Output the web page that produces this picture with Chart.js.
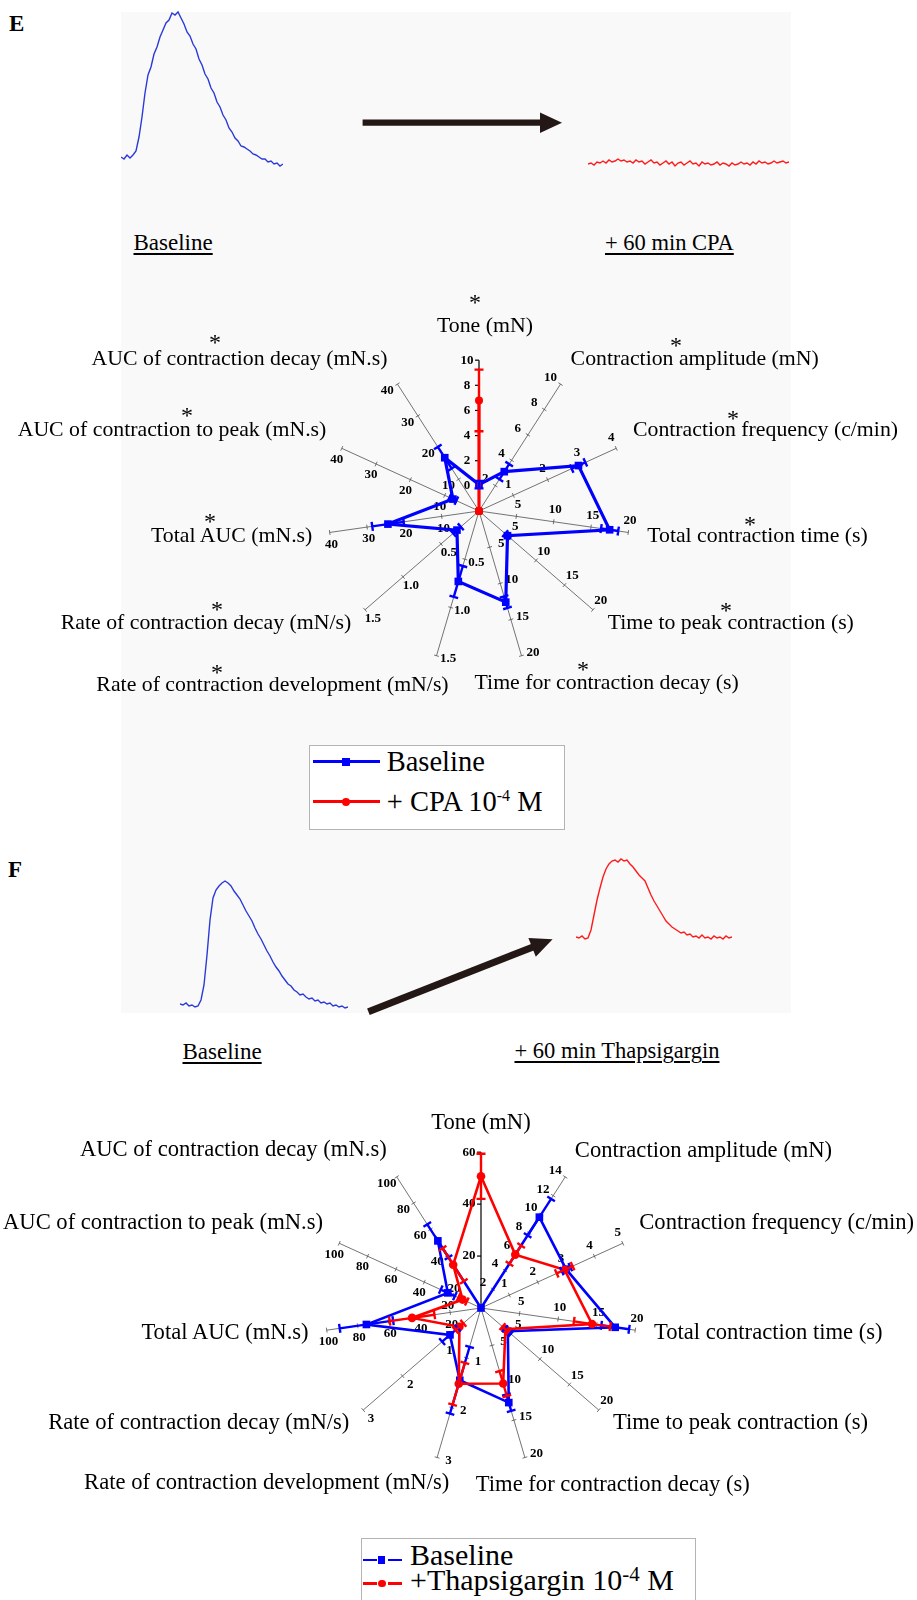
<!DOCTYPE html>
<html>
<head>
<meta charset="utf-8">
<title>CPA and thapsigargin radar plots</title>
<script src="https://cdn.jsdelivr.net/npm/chart.js@4.4.1/dist/chart.umd.min.js"></script>
<style>
  html, body { margin: 0; padding: 0; background: #fff; }
  body { position: relative; width: 917px; height: 1600px; overflow: hidden; font-family: "Liberation Serif", "Times New Roman", serif; color: #000; }
  .bg { position: absolute; left: 121px; top: 12px; width: 670px; height: 1001px; background: #f9f9f9; }
  canvas { position: absolute; }
  .t { position: absolute; white-space: nowrap; line-height: 1; }
  .u { text-decoration: underline; text-decoration-thickness: 1.5px; text-underline-offset: 3px; }
  .legend { position: absolute; background: #fff; border: 1px solid #b4b4b4; }
  .sw { position: absolute; }
</style>
</head>
<body>
<div class="bg"></div>
<svg width="917" height="1600" style="position:absolute;left:0;top:0">
  <line x1="362.6" y1="122.7" x2="543" y2="122.7" stroke="#231815" stroke-width="6.3"/>
  <polygon points="540,112.5 562,122.7 540,132.9" fill="#231815"/>
  <line x1="368.4" y1="1011.7" x2="535" y2="946.2" stroke="#231815" stroke-width="7"/>
  <polygon points="552.6,939.3 535.8,956.7 528.4,938.1" fill="#231815"/>
</svg>

<canvas id="traceEBase" style="left:121px;top:5px" width="162" height="170"></canvas>
<canvas id="traceECpa" style="left:588px;top:5px" width="201" height="170"></canvas>
<canvas id="traceFBase" style="left:180px;top:860px" width="168" height="155"></canvas>
<canvas id="traceFThaps" style="left:576px;top:845px" width="156" height="170"></canvas>

<canvas id="radarE" style="left:298px;top:330px" width="362" height="362"></canvas>
<canvas id="radarF" style="left:294px;top:1121px" width="374" height="374"></canvas>

<script>
// ---- data ----
const axisNames = ['Tone (mN)', 'Contraction amplitude (mN)', 'Contraction frequency (c/min)',
  'Total contraction time (s)', 'Time to peak contraction (s)', 'Time for contraction decay (s)',
  'Rate of contraction development (mN/s)', 'Rate of contraction decay (mN/s)',
  'Total AUC (mN.s)', 'AUC of contraction to peak (mN.s)', 'AUC of contraction decay (mN.s)'];

// panel E (CPA)
const eAxisMin = [-2, 0, 0, 0, 0, 0, 0, 0, 0, 0, 0];
const eAxisMax = [10, 10, 4, 20, 20, 20, 1.5, 1.5, 40, 40, 40];
const eTickLabels = [['0','2','4','6','8','10'], ['2','4','6','8','10'], ['1','2','3','4'],
  ['5','10','15','20'], ['5','10','15','20'], ['5','10','15','20'],
  ['0.5','1.0','1.5'], ['0.5','1.0','1.5'],
  ['10','20','30','40'], ['10','20','30','40'], ['10','20','30','40']];
const eBaseline = [0.1, 3.1, 2.9, 17.5, 5.0, 12.6, 0.73, 0.29, 24.4, 7.6, 16.8];
const eBaselineErr = [0.3, 0.6, 0.2, 1.15, 0.4, 0.8, 0.16, 0.05, 4.2, 1.0, 3.4];
const eCpa = [6.8, 0, 0, 0, 0, 0, 0, 0, 0, 0, 0];
const eCpaErr = [2.45, 0, 0, 0, 0, 0, 0, 0, 0, 0, 0];

// panel F (thapsigargin)
const fAxisMin = [0, 0, 0, 0, 0, 0, 0, 0, 0, 0, 0];
const fAxisMax = [60, 14, 5, 20, 20, 20, 3, 3, 100, 100, 100];
const fTickLabels = [['20','40','60'], ['2','4','6','8','10','12','14'], ['1','2','3','4','5'],
  ['5','10','15','20'], ['5','10','15','20'], ['5','10','15','20'],
  ['1','2','3'], ['1','2','3'],
  ['20','40','60','80','100'], ['20','40','60','80','100'], ['20','40','60','80','100']];
const fBaseline = [0, 9.7, 3.0, 17.4, 4.55, 12.65, 1.45, 0.79, 74.3, 23.4, 51.2];
const fBaselineErr = [0, 1.95, 0.15, 1.8, 0.5, 1.1, 0.67, 0.2, 17.3, 5, 12.6];
const fThaps = [50.7, 5.7, 2.95, 14.4, 4.15, 10.1, 1.52, 0.55, 44.7, 13, 33];
const fThapsErr = [8.7, 0.97, 0.28, 2.35, 0.5, 1.67, 0.42, 0.1, 14.5, 3, 12.6];

// example force traces (a.u.)
const eTraceBase = [18,16,20,17,20,24,38,58,82,100,108,121,128,138,145,152,155,162,160,163,
  157,151,143,139,131,126,116,110,101,96,87,82,73,68,60,55,47,43,37,34,
  29,28,26,24,21,20,18,16,16,13,14,11,12,9,11];
const eTraceCpa = [11,12,10,13,12,14,12,15,13,14,16,14,15,13,14,12,15,13,14,11,
  13,15,12,13,10,12,14,11,13,9,12,13,10,12,14,11,12,9,13,11,
  12,10,11,13,10,12,11,9,12,10,11,13,11,12,10,13,11,14,12,13,
  11,12,14,12,13,14,12,13];
const fTraceBase = [11,10,12,9,10,8,9,15,30,60,95,117,125,129,132,134,132,129,124,120,
  116,110,104,99,94,87,81,76,70,64,59,53,48,44,39,35,31,29,25,23,
  20,21,18,16,17,14,15,12,13,11,12,9,10,8,9,7,8];
const fTraceThaps = [78,77,79,76,77,85,100,115,127,138,146,151,154,155,153,156,154,155,151,148,
  144,140,137,134,127,120,114,109,104,99,94,91,88,86,84,82,83,80,81,78,
  79,77,80,77,78,76,79,77,78,76,79,77,78];

// ---- layout (label centres) ----
const eLabelPos = [[485,326.7],[694.7,360],[765.5,430.7],[757.5,536.7],[730.8,623.3],[606.7,683.3],
  [272.5,686],[206,623.3],[231.7,536.7],[172,430.7],[239.5,360]];
const eStarPos = [[475,299],[676,342],[733,415],[750,521],[726,607],[583,666],
  [217,669],[217,606],[210,518],[187,412],[215,339]];
const fLabelPos = [[481,1123.3],[703.5,1151],[776.7,1223.3],[768.3,1333.3],[740.5,1423.3],[612.8,1485],
  [266.7,1483.3],[198.8,1422.7],[225,1332.7],[163,1223.3],[233.3,1150]];

const BLUE = '#0000ff';
const RED = '#ff0000';

function addText(html, x, base, size, center, cls) {
  const d = document.createElement('div');
  d.className = 't' + (cls ? ' ' + cls : '');
  d.innerHTML = html;
  d.style.fontSize = size + 'px';
  d.style.top = (base - 0.8375 * size) + 'px';
  d.style.left = x + 'px';
  if (center) d.style.transform = 'translateX(-50%)';
  document.body.appendChild(d);
  return d;
}

function box(cls, x, y, w, h, color, round) {
  const d = document.createElement('div');
  d.className = cls;
  Object.assign(d.style, { left: x + 'px', top: y + 'px', width: w + 'px', height: h + 'px' });
  if (color) d.style.background = color;
  if (round) d.style.borderRadius = '50%';
  document.body.appendChild(d);
  return d;
}

function trace(id, values, color) {
  const c = document.getElementById(id);
  new Chart(c, {
    type: 'line',
    data: { labels: values.map((v, i) => i), datasets: [{ data: values, borderColor: color, borderWidth: 1.4, pointRadius: 0, fill: false }] },
    options: {
      responsive: false, animation: false, events: [],
      plugins: { legend: { display: false }, tooltip: { enabled: false } },
      scales: { x: { display: false }, y: { display: false, min: 0, max: c.height } }
    }
  });
}

// axis lines, tick marks and tick labels for each spoke, each with its own range
function axesPlugin(mins, maxs, ticks) {
  return {
    id: 'radarAxes',
    beforeDatasetsDraw(chart) {
      const r = chart.scales.r, ctx = chart.ctx;
      ctx.save();
      ctx.font = 'bold 13px "Liberation Serif"';
      ctx.textAlign = 'center';
      ctx.textBaseline = 'middle';
      for (let i = 0; i < mins.length; i++) {
        const p0 = r.getPointPositionForValue(i, 0);
        const p1 = r.getPointPositionForValue(i, 1);
        const len = Math.hypot(p1.x - p0.x, p1.y - p0.y);
        const dx = (p1.x - p0.x) / len, dy = (p1.y - p0.y) / len;
        const nx = dy, ny = -dx;
        ctx.strokeStyle = i === 0 ? '#000' : '#505050';
        ctx.lineWidth = i === 0 ? 1.2 : 0.8;
        ctx.beginPath(); ctx.moveTo(p0.x, p0.y); ctx.lineTo(p1.x, p1.y); ctx.stroke();
        ticks[i].forEach(t => {
          const p = r.getPointPositionForValue(i, (parseFloat(t) - mins[i]) / (maxs[i] - mins[i]));
          ctx.beginPath();
          if (i === 0) { ctx.moveTo(p.x, p.y); ctx.lineTo(p.x + 4 * nx, p.y + 4 * ny); }
          else { ctx.moveTo(p.x - 2.5 * nx, p.y - 2.5 * ny); ctx.lineTo(p.x + 2.5 * nx, p.y + 2.5 * ny); }
          ctx.stroke();
          ctx.fillStyle = '#000';
          ctx.fillText(t, p.x + 12 * nx, p.y + 12 * ny);
        });
      }
      ctx.restore();
    }
  };
}

function errorPlugin(mins, maxs, series) {
  return {
    id: 'errorBars',
    afterDatasetsDraw(chart) {
      const r = chart.scales.r, ctx = chart.ctx;
      ctx.save();
      series.forEach(s => {
        ctx.strokeStyle = s.color;
        ctx.lineWidth = 2.4;
        s.values.forEach((v, i) => {
          const e = s.errors[i];
          if (!e) return;
          const a = r.getPointPositionForValue(i, (v - e - mins[i]) / (maxs[i] - mins[i]));
          const b = r.getPointPositionForValue(i, (v + e - mins[i]) / (maxs[i] - mins[i]));
          const len = Math.hypot(b.x - a.x, b.y - a.y) || 1;
          const nx = (b.y - a.y) / len, ny = -(b.x - a.x) / len;
          ctx.beginPath();
          ctx.moveTo(a.x, a.y); ctx.lineTo(b.x, b.y);
          [a, b].forEach(p => { ctx.moveTo(p.x - 4.5 * nx, p.y - 4.5 * ny); ctx.lineTo(p.x + 4.5 * nx, p.y + 4.5 * ny); });
          ctx.stroke();
        });
      });
      ctx.restore();
    }
  };
}

function radar(id, mins, maxs, ticks, series) {
  const norm = (i, v) => (v - mins[i]) / (maxs[i] - mins[i]);
  new Chart(document.getElementById(id), {
    type: 'radar',
    data: {
      labels: axisNames,
      datasets: series.map(s => ({
        label: s.label,
        data: s.values.map((v, i) => norm(i, v)),
        borderColor: s.color, backgroundColor: s.color,
        pointBackgroundColor: s.color, pointBorderColor: s.color, pointBorderWidth: 0,
        borderWidth: s.width, pointStyle: s.marker, pointRadius: s.radius,
        fill: false, order: s.order
      }))
    },
    options: {
      responsive: false, animation: false, events: [],
      plugins: { legend: { display: false }, tooltip: { enabled: false } },
      scales: {
        r: {
          min: 0, max: 1.2,
          ticks: { display: false },
          grid: { display: false },
          angleLines: { display: false },
          pointLabels: { display: false }
        }
      }
    },
    plugins: [axesPlugin(mins, maxs, ticks), errorPlugin(mins, maxs, series)]
  });
}

trace('traceEBase', eTraceBase, '#2a3ad8');
trace('traceECpa', eTraceCpa, '#ff1a1a');
trace('traceFBase', fTraceBase, '#2a3ad8');
trace('traceFThaps', fTraceThaps, '#ff1a1a');

radar('radarE', eAxisMin, eAxisMax, eTickLabels, [
  { label: 'Baseline', values: eBaseline, errors: eBaselineErr, color: BLUE, width: 3.2, marker: 'rect', radius: 5.4, order: 2 },
  { label: '+ CPA 10-4 M', values: eCpa, errors: eCpaErr, color: RED, width: 3.2, marker: 'circle', radius: 4, order: 1 }
]);
radar('radarF', fAxisMin, fAxisMax, fTickLabels, [
  { label: 'Baseline', values: fBaseline, errors: fBaselineErr, color: BLUE, width: 2.6, marker: 'rect', radius: 5.4, order: 2 },
  { label: '+Thapsigargin 10-4 M', values: fThaps, errors: fThapsErr, color: RED, width: 2.6, marker: 'circle', radius: 4.3, order: 1 }
]);

// ---- texts ----
addText('<b>E</b>', 9, 31.7, 23);
addText('<b>F</b>', 8, 877, 23);
addText('Baseline', 133.5, 250.7, 23, false, 'u');
addText('+ 60 min CPA', 605, 250.7, 22.5, false, 'u');
addText('Baseline', 182.5, 1059.3, 23, false, 'u');
addText('+ 60 min Thapsigargin', 514.5, 1059.3, 22.5, false, 'u');

axisNames.forEach((name, i) => {
  addText(name, eLabelPos[i][0], eLabelPos[i][1] + 6.6, 21.8, true);
  addText('*', eStarPos[i][0], eStarPos[i][1] + 11, 24, true);
  addText(name, fLabelPos[i][0], fLabelPos[i][1] + 6.8, 22.6, true);
});

// ---- legends ----
box('legend', 309, 745, 254, 83);
box('sw', 313, 760.2, 67, 3.2, BLUE);
box('sw', 342.3, 758, 7.5, 7.5, BLUE);
box('sw', 313, 800.2, 67, 3.2, RED);
box('sw', 342, 797.7, 8, 8, RED, true);
addText('Baseline', 386.7, 771.7, 28.5);
addText('+ CPA 10<span style="font-size:16px;position:relative;top:-10px">-4</span> M', 386.7, 811.7, 28.5);

box('legend', 360.7, 1538.3, 333, 80);
box('sw', 363, 1558.8, 14, 2.6, BLUE);
box('sw', 388, 1558.8, 14, 2.6, BLUE);
box('sw', 378.2, 1556.4, 7.3, 7.3, BLUE);
box('sw', 363, 1582.1, 14, 2.6, RED);
box('sw', 388, 1582.1, 14, 2.6, RED);
box('sw', 378, 1579.6, 7.5, 7.5, RED, true);
addText('Baseline', 410, 1565, 30);
addText('+Thapsigargin 10<span style="font-size:21px;position:relative;top:-9px">-4</span> M', 410, 1590, 30);
</script>
</body>
</html>
